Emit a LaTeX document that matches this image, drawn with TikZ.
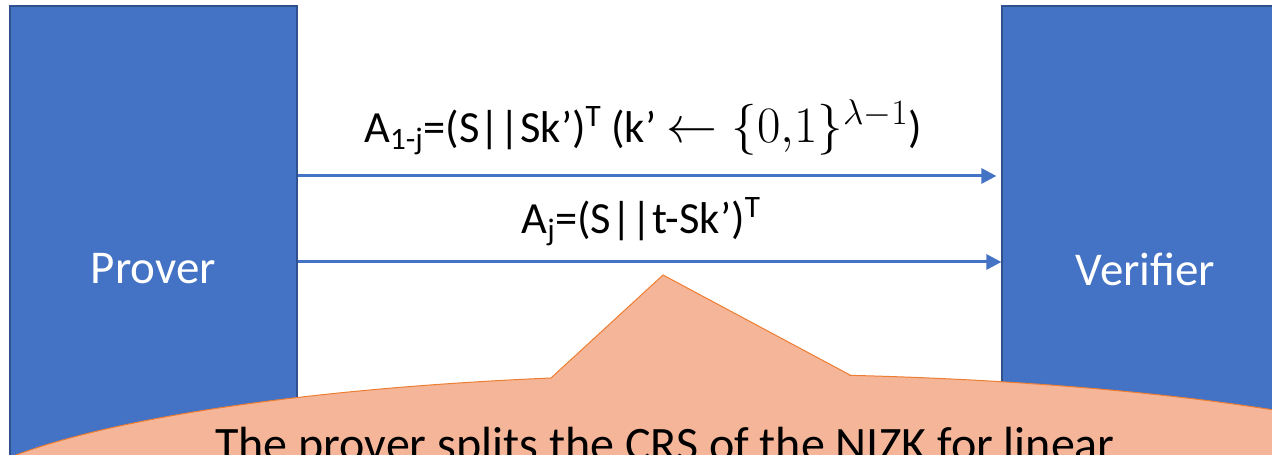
\RequirePackage{fix-cm}
\documentclass[tikz,border=0pt]{standalone}
\usepackage{fontspec}
\setmainfont{Carlito}
\usetikzlibrary{arrows.meta}
\definecolor{boxblue}{HTML}{4472C4}
\definecolor{boxedge}{HTML}{2F528F}
\definecolor{peach}{RGB}{245,181,153}
\definecolor{calloutedge}{HTML}{ED7D31}
\tikzset{
  party/.style={draw=boxedge, line width=1.2pt, fill=boxblue, text=white,
    minimum width=287pt, minimum height=526pt, inner sep=0pt,
    font=\fontsize{47}{56}\selectfont},
  msg/.style={draw=boxblue, line width=3pt,
    -{Triangle[length=15pt,width=15pt]}},
  msglabel/.style={anchor=base, inner sep=0pt, font=\fontsize{44.5}{53}\selectfont},
  callout/.style={fill=peach, draw=calloutedge, line width=1pt, line join=miter},
  callouttext/.style={anchor=base, inner sep=0pt, font=\fontsize{48}{58}\selectfont}
}
\begin{document}
\begin{tikzpicture}[x=1pt,y=1pt]
\useasboundingbox (0,0) rectangle (1272,455);
\clip (0,0) rectangle (1272,455);
\node[party] (prover) at (153.5,186) {Prover};
\node[party] (verifier) at (1145.5,186) {Verifier};
\coordinate (y1) at (0,279);
\coordinate (y2) at (0,193);
\draw[msg] (prover.east |- y1) -- ([xshift=-5pt]verifier.west |- y1);
\draw[msg] (prover.east |- y2) -- (verifier.west |- y2);
\node[msglabel] (l1) at (643,312) {A\textsubscript{1-j}=(S||Sk’)\textsuperscript{T} (k’ {\fontsize{51}{60}\selectfont$\leftarrow \{0{,}1\}^{\lambda-1}$})};
\node[msglabel] (l2) at (641,221) {A\textsubscript{j}=(S||t-Sk’)\textsuperscript{T}};
\draw[callout] (850,80) -- (663,180) -- (551,77)
  arc[start angle=103.67, end angle=442.1, x radius=800pt, y radius=141pt] -- cycle;
\node[callouttext] (ct) at (665,-6) {The prover splits the CRS of the NIZK for linear};
\end{tikzpicture}
\end{document}
